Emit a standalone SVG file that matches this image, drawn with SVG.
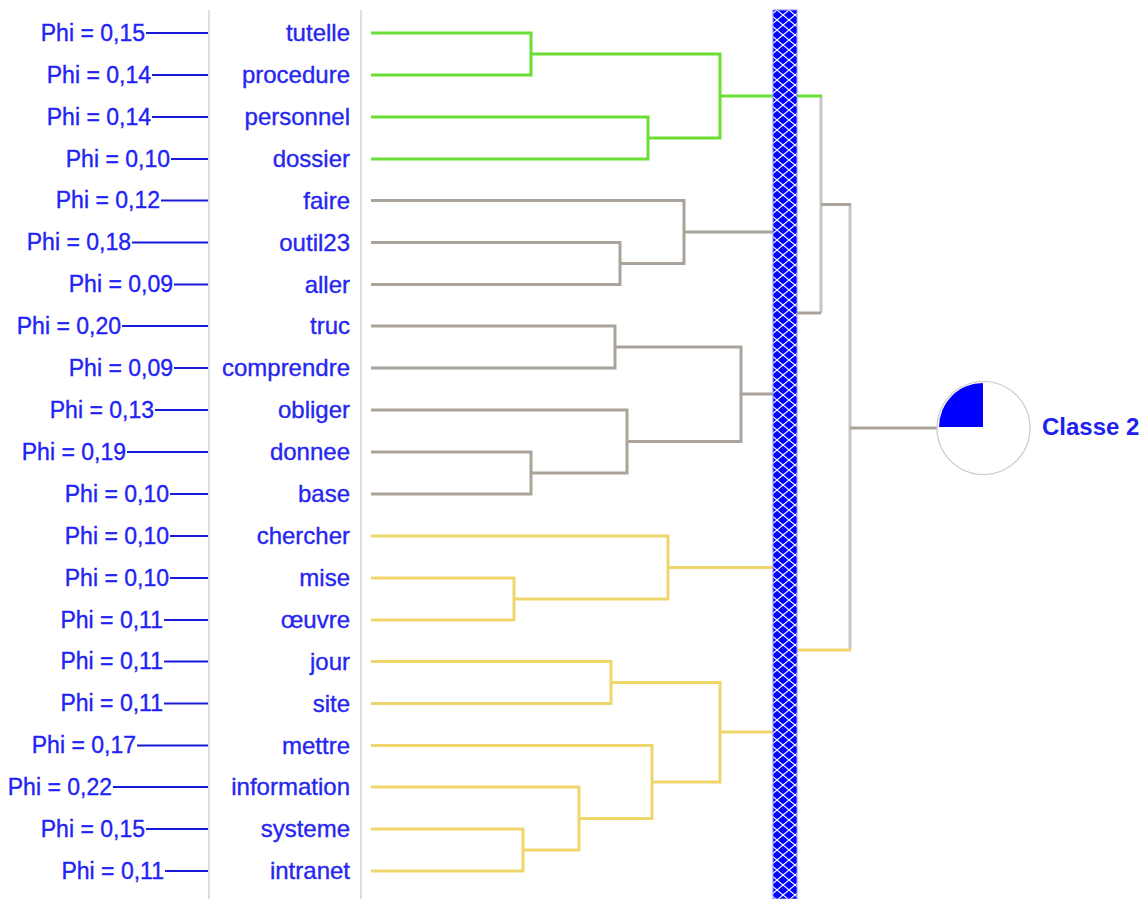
<svg xmlns="http://www.w3.org/2000/svg" width="1146" height="899" viewBox="0 0 1146 899">
<style>
.phi{font-family:"Liberation Sans",Arial,sans-serif;font-size:23px;fill:#2222f5;stroke:#2222f5;stroke-width:0.35;text-anchor:end}
.lab{font-family:"Liberation Sans",Arial,sans-serif;font-size:24px;fill:#2626f0;stroke:#2626f0;stroke-width:0.35;text-anchor:end}
.pl{stroke:#1a1ad8;stroke-width:2;fill:none}
.sep{stroke:#dedede;stroke-width:2;fill:none}
.c{fill:none;stroke-width:3;stroke-linejoin:miter;stroke-linecap:butt}
.g{stroke:#6ade34}
.b{stroke:#aaa39b}
.y{stroke:#efd66c}
.l{stroke:#c6c6c6}
.cls{font-family:"Liberation Sans",Arial,sans-serif;font-size:24px;font-weight:bold;fill:#2020f0}
</style>
<defs>
<pattern id="hatch" patternUnits="userSpaceOnUse" x="777" y="10" width="12" height="10">
<rect width="12" height="10" fill="#0000ff"/>
<path d="M0,0 L12,10 M12,0 L0,10" stroke="#ffffff" stroke-width="1.1"/>
</pattern>
</defs>
<rect width="1146" height="899" fill="#ffffff"/>
<g id="separators">
<line class="sep" x1="209" y1="10" x2="209" y2="899"/>
<line class="sep" x1="361" y1="10" x2="361" y2="899"/>
</g>
<g id="phi">
<text class="phi" x="145" y="40.5">Phi = 0,15</text><line class="pl" x1="146" y1="33" x2="208" y2="33"/>
<text class="phi" x="151" y="82.5">Phi = 0,14</text><line class="pl" x1="152" y1="75" x2="208" y2="75"/>
<text class="phi" x="151" y="124.5">Phi = 0,14</text><line class="pl" x1="152" y1="117" x2="208" y2="117"/>
<text class="phi" x="170" y="166.5">Phi = 0,10</text><line class="pl" x1="171" y1="159" x2="208" y2="159"/>
<text class="phi" x="160" y="208">Phi = 0,12</text><line class="pl" x1="161" y1="200.5" x2="208" y2="200.5"/>
<text class="phi" x="131" y="250">Phi = 0,18</text><line class="pl" x1="132" y1="242.5" x2="208" y2="242.5"/>
<text class="phi" x="173" y="292">Phi = 0,09</text><line class="pl" x1="174" y1="284.5" x2="208" y2="284.5"/>
<text class="phi" x="121" y="333.5">Phi = 0,20</text><line class="pl" x1="122" y1="326" x2="208" y2="326"/>
<text class="phi" x="173" y="375.5">Phi = 0,09</text><line class="pl" x1="174" y1="368" x2="208" y2="368"/>
<text class="phi" x="154" y="417.5">Phi = 0,13</text><line class="pl" x1="155" y1="410" x2="208" y2="410"/>
<text class="phi" x="126" y="459.5">Phi = 0,19</text><line class="pl" x1="127" y1="452" x2="208" y2="452"/>
<text class="phi" x="169" y="501.5">Phi = 0,10</text><line class="pl" x1="170" y1="494" x2="208" y2="494"/>
<text class="phi" x="169" y="543.5">Phi = 0,10</text><line class="pl" x1="170" y1="536" x2="208" y2="536"/>
<text class="phi" x="169" y="585.5">Phi = 0,10</text><line class="pl" x1="170" y1="578" x2="208" y2="578"/>
<text class="phi" x="163" y="627.5">Phi = 0,11</text><line class="pl" x1="164" y1="620" x2="208" y2="620"/>
<text class="phi" x="163" y="669">Phi = 0,11</text><line class="pl" x1="164" y1="661.5" x2="208" y2="661.5"/>
<text class="phi" x="163" y="711">Phi = 0,11</text><line class="pl" x1="164" y1="703.5" x2="208" y2="703.5"/>
<text class="phi" x="136" y="753">Phi = 0,17</text><line class="pl" x1="137" y1="745.5" x2="208" y2="745.5"/>
<text class="phi" x="112" y="794.5">Phi = 0,22</text><line class="pl" x1="113" y1="787" x2="208" y2="787"/>
<text class="phi" x="145" y="836.5">Phi = 0,15</text><line class="pl" x1="146" y1="829" x2="208" y2="829"/>
<text class="phi" x="164" y="878.5">Phi = 0,11</text><line class="pl" x1="165" y1="871" x2="208" y2="871"/>
</g>
<g id="labels">
<text class="lab" x="350" y="41">tutelle</text>
<text class="lab" x="350" y="83">procedure</text>
<text class="lab" x="350" y="125">personnel</text>
<text class="lab" x="350" y="167">dossier</text>
<text class="lab" x="350" y="208.5">faire</text>
<text class="lab" x="350" y="250.5">outil23</text>
<text class="lab" x="350" y="292.5">aller</text>
<text class="lab" x="350" y="334">truc</text>
<text class="lab" x="350" y="376">comprendre</text>
<text class="lab" x="350" y="418">obliger</text>
<text class="lab" x="350" y="460">donnee</text>
<text class="lab" x="350" y="502">base</text>
<text class="lab" x="350" y="544">chercher</text>
<text class="lab" x="350" y="586">mise</text>
<text class="lab" x="350" y="628">œuvre</text>
<text class="lab" x="350" y="669.5">jour</text>
<text class="lab" x="350" y="711.5">site</text>
<text class="lab" x="350" y="753.5">mettre</text>
<text class="lab" x="350" y="795">information</text>
<text class="lab" x="350" y="837">systeme</text>
<text class="lab" x="350" y="879">intranet</text>
</g>
<g id="connectors">
<path class="c g" d="M371,33 H531 V75 H371"/>
<path class="c g" d="M371,117 H648 V159 H371"/>
<path class="c g" d="M531,54 H720 V138 H648"/>
<path class="c g" d="M720,96 H785"/>
<path class="c b" d="M371,242.5 H620 V284.5 H371"/>
<path class="c b" d="M371,200.5 H684 V263.5 H620"/>
<path class="c b" d="M684,232 H785"/>
<path class="c b" d="M371,326 H615 V368 H371"/>
<path class="c b" d="M371,452 H531 V494 H371"/>
<path class="c b" d="M371,410 H627 V473 H531"/>
<path class="c b" d="M615,347 H741 V441.5 H627"/>
<path class="c b" d="M741,394 H785"/>
<path class="c y" d="M371,578 H514 V620 H371"/>
<path class="c y" d="M371,536 H668 V599 H514"/>
<path class="c y" d="M668,567.5 H785"/>
<path class="c y" d="M371,661.5 H611 V703.5 H371"/>
<path class="c y" d="M371,829 H523 V871 H371"/>
<path class="c y" d="M371,787 H579 V850 H523"/>
<path class="c y" d="M371,745.5 H652 V818.5 H579"/>
<path class="c y" d="M611,682.5 H720 V782 H652"/>
<path class="c y" d="M720,732 H785"/>
<path class="c l" d="M821,96 V313"/>
<path class="c l" d="M850,204.5 V650"/>
<path class="c g" d="M790,96 H822"/>
<path class="c b" d="M790,313 H821"/>
<path class="c b" d="M821,204.5 H851"/>
<path class="c y" d="M790,650 H851"/>
<path class="c b" d="M850,428 H937"/>
</g>
<g id="bar">
<rect x="773" y="10" width="24" height="889" fill="url(#hatch)" stroke="#8c8cff" stroke-width="1"/>
</g>
<g id="classe2">
<circle cx="983.5" cy="428" r="46.5" fill="#ffffff" stroke="#c8c8c8" stroke-width="1.2"/>
<path d="M983,427 V383 A44,44 0 0 0 939,427 Z" fill="#0000ff"/>
<text class="cls" x="1042" y="435">Classe 2</text>
</g>
</svg>
